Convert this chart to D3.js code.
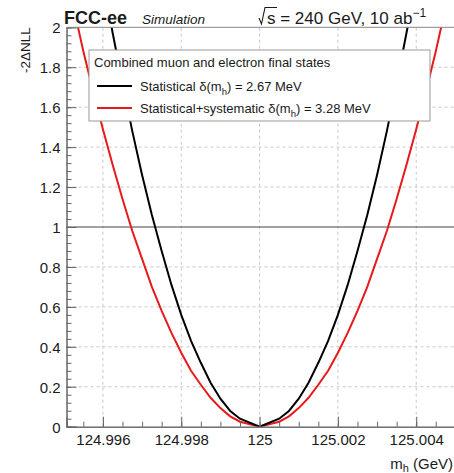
<!DOCTYPE html>
<html>
<head>
<meta charset="utf-8">
<script src="https://cdn.jsdelivr.net/npm/d3@7"></script>
<style>
  body { margin: 0; background: #fff; }
  text { font-family: "Liberation Sans", Arial, sans-serif; fill: #1a1a1a; }
</style>
</head>
<body>
<svg id="chart" width="454" height="473"></svg>
<script>
// scan points (GeV) and -2 delta NLL
const massPoints = [124.995, 124.99525, 124.9955, 124.99575, 124.996, 124.99625, 124.9965, 124.99675,
  124.997, 124.99725, 124.9975, 124.99775, 124.998, 124.99825, 124.9985, 124.99875, 124.999, 124.99925,
  124.9995, 125.0, 125.0005, 125.00075, 125.001, 125.00125, 125.0015, 125.00175, 125.002, 125.00225,
  125.0025, 125.00275, 125.003, 125.00325, 125.0035, 125.00375, 125.004, 125.00425, 125.0045, 125.00475, 125.005];
const statValues = [3.51, 3.17, 2.84, 2.53, 2.24, 1.97, 1.72, 1.48, 1.26, 1.06, 0.88, 0.71, 0.56, 0.43,
  0.32, 0.22, 0.14, 0.079, 0.04, 0, 0.04, 0.079, 0.14, 0.22, 0.32, 0.43, 0.56, 0.71, 0.88, 1.06, 1.26,
  1.48, 1.72, 1.97, 2.24, 2.53, 2.84, 3.17, 3.51];
const systValues = [2.32, 2.10, 1.88, 1.68, 1.49, 1.31, 1.14, 0.98, 0.84, 0.70, 0.58, 0.47, 0.37, 0.28,
  0.21, 0.145, 0.093, 0.052, 0.025, 0, 0.025, 0.052, 0.093, 0.145, 0.21, 0.28, 0.37, 0.47, 0.58, 0.70,
  0.84, 0.98, 1.14, 1.31, 1.49, 1.68, 1.88, 2.10, 2.32];
const xMajor = [124.996, 124.998, 125.0, 125.002, 125.004];
const yMajor = [0, 0.2, 0.4, 0.6, 0.8, 1.0, 1.2, 1.4, 1.6, 1.8, 2.0];
const legendLabels = ["Statistical", "Statistical+systematic"];
const legendWidths = ["2.67 MeV", "3.28 MeV"];

const svg = d3.select("#chart");
const plotLeft = 66.5, plotRight = 455, plotTop = 27.3, plotBottom = 426.7;

// scales
const x = d3.scaleLinear().domain([124.99507, 125.00499]).range([plotLeft, plotRight]);
const y = d3.scaleLinear().domain([0, 2]).range([plotBottom, plotTop]);

// minor tick positions
const xMinor = d3.range(124.9955, 125.0051, 0.0005);
const yMinor = d3.range(0, 2.001, 0.04);

// dashed grid
svg.append("g")
  .selectAll("line")
  .data(xMajor)
  .join("line")
  .attr("x1", d => x(d)).attr("x2", d => x(d))
  .attr("y1", plotBottom).attr("y2", plotTop)
  .attr("stroke", "#c8c8c8").attr("stroke-dasharray", "3,3");

svg.append("g")
  .selectAll("line")
  .data(yMajor.filter(d => d > 0 && d < 2 && d !== 1))
  .join("line")
  .attr("x1", plotLeft).attr("x2", plotRight)
  .attr("y1", d => y(d)).attr("y2", d => y(d))
  .attr("stroke", "#c8c8c8").attr("stroke-dasharray", "3,3");

// solid line at 1
svg.append("line")
  .attr("x1", plotLeft).attr("x2", plotRight)
  .attr("y1", y(1)).attr("y2", y(1))
  .attr("stroke", "#444").attr("stroke-width", 1);

// curves
svg.append("clipPath").attr("id", "clip")
  .append("rect")
  .attr("x", plotLeft).attr("y", plotTop)
  .attr("width", plotRight - plotLeft).attr("height", plotBottom - plotTop);

const line = d3.line().x((d, i) => x(massPoints[i])).y(d => y(d));

svg.append("path")
  .datum(systValues)
  .attr("clip-path", "url(#clip)")
  .attr("d", line)
  .attr("fill", "none").attr("stroke", "#e8191b").attr("stroke-width", 2);

svg.append("path")
  .datum(statValues)
  .attr("clip-path", "url(#clip)")
  .attr("d", line)
  .attr("fill", "none").attr("stroke", "#000").attr("stroke-width", 2);

// axes
const xAxis = svg.append("g")
  .attr("transform", "translate(0," + plotBottom + ")")
  .call(d3.axisBottom(x).tickValues(xMajor).tickSize(-10).tickPadding(18)
    .tickFormat(d => String(+d.toFixed(3))));
svg.append("g")
  .attr("transform", "translate(0," + plotBottom + ")")
  .call(d3.axisBottom(x).tickValues(xMinor).tickSize(-5).tickFormat(""));

const yAxis = svg.append("g")
  .attr("transform", "translate(" + plotLeft + ",0)")
  .call(d3.axisLeft(y).tickValues(yMajor).tickSize(-10).tickPadding(6)
    .tickFormat(d => String(+d.toFixed(1))));
svg.append("g")
  .attr("transform", "translate(" + plotLeft + ",0)")
  .call(d3.axisLeft(y).tickValues(yMinor).tickSize(-5).tickFormat(""));

svg.selectAll(".domain").attr("stroke", "#666");
svg.selectAll(".tick line").attr("stroke", "#666");
svg.selectAll(".tick text")
  .attr("font-family", "Liberation Sans, Arial, sans-serif")
  .attr("font-size", 15).attr("fill", "#1a1a1a");
xAxis.selectAll(".tick text").attr("dy", "0");
yAxis.selectAll(".tick text").attr("dy", "0.36em");

// top frame
svg.append("line")
  .attr("x1", plotLeft).attr("x2", plotRight)
  .attr("y1", plotTop).attr("y2", plotTop)
  .attr("stroke", "#888");

// axis titles
svg.append("text")
  .attr("transform", "translate(30," + plotTop + ") rotate(-90)")
  .attr("text-anchor", "end")
  .attr("font-size", 13.5)
  .text("-2\u0394NLL");

const xTitle = svg.append("text")
  .attr("x", 453).attr("y", 469)
  .attr("text-anchor", "end")
  .attr("font-size", 15);
xTitle.append("tspan").text("m");
xTitle.append("tspan").attr("dy", 3).attr("font-size", 11).text("h");
xTitle.append("tspan").attr("dy", -3).text(" (GeV)");

// header
svg.append("text")
  .attr("x", 64).attr("y", 24)
  .attr("font-size", 18).attr("font-weight", "bold")
  .text("FCC-ee");
svg.append("text")
  .attr("x", 142).attr("y", 24)
  .attr("font-size", 13.5).attr("font-style", "italic")
  .text("Simulation");

const energy = svg.append("text")
  .attr("x", 267).attr("y", 24)
  .attr("font-size", 17);
energy.append("tspan").text("s = 240 GeV, 10 ab");
energy.append("tspan").attr("dy", -7).attr("font-size", 12).text("\u22121");
// sqrt sign
svg.append("path")
  .attr("d", "M259,18 L261.5,24 L265,7.5 L277,7.5")
  .attr("fill", "none").attr("stroke", "#1a1a1a").attr("stroke-width", 1.1);

// legend
const legend = svg.append("g");
legend.append("rect")
  .attr("x", 89).attr("y", 50).attr("width", 341).attr("height", 71)
  .attr("fill", "#fff").attr("stroke", "#999");
legend.append("text")
  .attr("x", 94).attr("y", 67)
  .attr("font-size", 13)
  .text("Combined muon and electron final states");

const entries = [
  { label: legendLabels[0], width: legendWidths[0], color: "#000", yy: 86 },
  { label: legendLabels[1], width: legendWidths[1], color: "#e8191b", yy: 108 }
];
entries.forEach(e => {
  legend.append("line")
    .attr("x1", 97).attr("x2", 132)
    .attr("y1", e.yy).attr("y2", e.yy)
    .attr("stroke", e.color).attr("stroke-width", 2);
  const t = legend.append("text")
    .attr("x", 140).attr("y", e.yy + 5)
    .attr("font-size", 13);
  t.append("tspan").text(e.label + " \u03b4(m");
  t.append("tspan").attr("dy", 4).attr("font-size", 9.5).text("h");
  t.append("tspan").attr("dy", -4).text(") = " + e.width);
});
</script>
</body>
</html>
